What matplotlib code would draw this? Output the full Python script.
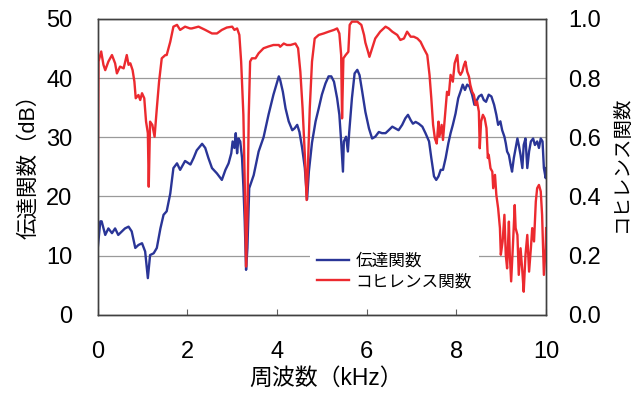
import matplotlib
matplotlib.use("Agg")
import matplotlib.pyplot as plt

plt.rcParams['font.family'] = ['Liberation Sans', 'Noto Sans CJK JP', 'DejaVu Sans']

# 伝達関数 (dB)
freq_tf = [0.0, 0.06, 0.09, 0.17, 0.24, 0.32, 0.39, 0.46, 0.54, 0.61, 0.69, 0.76, 0.84, 0.91, 0.99,
           1.06, 1.12, 1.17, 1.25, 1.32, 1.40, 1.47, 1.54, 1.62, 1.69, 1.77, 1.84, 1.95, 2.07, 2.14,
           2.21, 2.33, 2.40, 2.47, 2.55, 2.66, 2.74, 2.77, 2.85, 2.92, 2.98, 3.01, 3.05, 3.08, 3.11,
           3.14, 3.18, 3.22, 3.25, 3.28, 3.31, 3.34, 3.38, 3.48, 3.59, 3.70, 3.81, 3.92, 4.04, 4.07,
           4.13, 4.19, 4.26, 4.34, 4.39, 4.45, 4.50, 4.56, 4.62, 4.67, 4.71, 4.78, 4.86, 4.93, 5.00,
           5.08, 5.15, 5.21, 5.27, 5.34, 5.39, 5.43, 5.47, 5.49, 5.54, 5.58, 5.61, 5.67, 5.73, 5.79,
           5.84, 5.90, 5.97, 6.05, 6.12, 6.19, 6.27, 6.34, 6.42, 6.49, 6.57, 6.64, 6.71, 6.79, 6.86,
           6.92, 6.98, 7.03, 7.09, 7.16, 7.24, 7.31, 7.39, 7.44, 7.50, 7.55, 7.60, 7.65, 7.70, 7.76,
           7.82, 7.87, 7.92, 7.98, 8.04, 8.09, 8.14, 8.19, 8.24, 8.29, 8.35, 8.40, 8.44, 8.50, 8.56,
           8.61, 8.66, 8.72, 8.78, 8.84, 8.89, 8.93, 8.98, 9.02, 9.07, 9.10, 9.13, 9.17, 9.21, 9.24,
           9.28, 9.32, 9.36, 9.39, 9.43, 9.47, 9.50, 9.54, 9.58, 9.62, 9.66, 9.71, 9.75, 9.80, 9.84,
           9.88, 9.92, 9.95, 9.99, 10.0]
tf_db = [11.0, 15.8, 15.8, 13.5, 14.6, 13.8, 14.6, 13.5, 14.1, 14.6, 14.9, 14.1, 11.3, 11.8, 12.1,
         10.7, 6.2, 10.1, 10.4, 11.3, 14.6, 16.9, 17.5, 20.5, 24.8, 25.6, 24.5, 26.0, 25.4, 26.5,
         27.8, 28.9, 28.2, 26.5, 24.8, 23.9, 23.1, 22.8, 24.5, 25.6, 27.3, 29.3, 28.2, 30.7, 27.3,
         29.8, 29.3, 26.5, 21.7, 15.8, 7.6, 11.3, 21.4, 23.6, 27.6, 30.0, 33.8, 37.2, 40.3, 39.7,
         37.7, 34.9, 32.7, 31.2, 31.5, 32.1, 30.9, 28.2, 24.8, 19.5, 24.2, 29.1, 32.7, 34.9, 37.2,
         39.1, 40.3, 40.3, 39.4, 36.6, 33.8, 29.3, 24.2, 29.3, 30.1, 27.6, 30.9, 36.6, 40.8, 41.4,
         40.5, 37.7, 34.3, 31.5, 29.8, 30.1, 30.9, 30.7, 30.7, 31.2, 31.8, 31.5, 31.2, 32.1, 33.2,
         33.8, 32.9, 32.3, 32.6, 32.3, 31.8, 30.7, 29.3, 26.5, 23.4, 22.8, 23.4, 24.5, 24.5, 26.5,
         29.0, 30.7, 32.1, 34.0, 36.6, 37.7, 38.9, 38.0, 38.9, 38.6, 37.2, 35.5, 36.0, 36.9, 37.2,
         36.3, 36.0, 37.2, 36.9, 35.5, 33.8, 32.1, 32.7, 31.2, 30.1, 29.0, 27.6, 27.0, 25.3, 24.2,
         26.5, 28.2, 29.8, 28.7, 27.0, 24.8, 28.7, 29.8, 24.8, 27.6, 29.3, 29.8, 28.7, 29.3, 28.2,
         29.8, 29.3, 24.8, 23.1, 24.8]

# コヒレンス関数
freq_coh = [0.0, 0.02, 0.08, 0.13, 0.17, 0.24, 0.32, 0.39, 0.43, 0.50, 0.58, 0.65, 0.69, 0.73, 0.78,
            0.82, 0.85, 0.91, 0.95, 0.99, 1.04, 1.08, 1.12, 1.14, 1.17, 1.22, 1.27, 1.32, 1.37, 1.43,
            1.51, 1.54, 1.62, 1.69, 1.77, 1.84, 1.95, 2.06, 2.10, 2.25, 2.40, 2.55, 2.66, 2.77, 2.88,
            3.00, 3.05, 3.11, 3.16, 3.20, 3.25, 3.28, 3.31, 3.34, 3.37, 3.40, 3.44, 3.52, 3.59, 3.70,
            3.81, 3.92, 4.04, 4.07, 4.15, 4.22, 4.30, 4.41, 4.47, 4.52, 4.57, 4.62, 4.66, 4.69, 4.73,
            4.78, 4.84, 4.93, 5.04, 5.15, 5.27, 5.34, 5.39, 5.43, 5.45, 5.48, 5.53, 5.59, 5.62, 5.67,
            5.79, 5.88, 5.94, 5.97, 6.03, 6.06, 6.12, 6.19, 6.30, 6.42, 6.49, 6.57, 6.68, 6.75, 6.83,
            6.90, 6.98, 7.05, 7.13, 7.20, 7.27, 7.35, 7.40, 7.44, 7.48, 7.52, 7.56, 7.60, 7.62, 7.67,
            7.70, 7.74, 7.79, 7.83, 7.87, 7.92, 7.96, 8.02, 8.05, 8.09, 8.13, 8.17, 8.20, 8.24, 8.28,
            8.31, 8.35, 8.39, 8.43, 8.46, 8.50, 8.52, 8.55, 8.59, 8.63, 8.67, 8.70, 8.72, 8.76, 8.80,
            8.82, 8.86, 8.89, 8.93, 8.97, 8.99, 9.03, 9.07, 9.10, 9.13, 9.17, 9.19, 9.22, 9.26, 9.30,
            9.32, 9.36, 9.39, 9.43, 9.47, 9.50, 9.54, 9.58, 9.62, 9.66, 9.69, 9.73, 9.77, 9.80, 9.84,
            9.88, 9.91, 9.95, 9.99, 10.0]
coherence = [0.27, 0.856, 0.89, 0.845, 0.827, 0.856, 0.878, 0.850, 0.816, 0.839, 0.833, 0.878, 0.845,
             0.850, 0.827, 0.788, 0.732, 0.743, 0.726, 0.749, 0.732, 0.653, 0.614, 0.433, 0.653,
             0.642, 0.602, 0.698, 0.788, 0.867, 0.878, 0.878, 0.923, 0.974, 0.980, 0.963, 0.974,
             0.968, 0.968, 0.974, 0.963, 0.951, 0.951, 0.963, 0.971, 0.974, 0.963, 0.968, 0.946,
             0.856, 0.676, 0.450, 0.163, 0.338, 0.676, 0.856, 0.867, 0.867, 0.884, 0.901, 0.907,
             0.912, 0.912, 0.906, 0.917, 0.912, 0.912, 0.917, 0.901, 0.822, 0.698, 0.540, 0.388,
             0.507, 0.698, 0.856, 0.934, 0.946, 0.951, 0.957, 0.963, 0.968, 0.951, 0.878, 0.664,
             0.867, 0.878, 0.889, 0.980, 0.991, 0.991, 0.980, 0.946, 0.920, 0.889, 0.872, 0.901,
             0.934, 0.957, 0.974, 0.968, 0.957, 0.946, 0.929, 0.934, 0.957, 0.940, 0.940, 0.934,
             0.923, 0.901, 0.878, 0.811, 0.732, 0.642, 0.596, 0.579, 0.653, 0.602, 0.642, 0.591,
             0.664, 0.754, 0.743, 0.811, 0.788, 0.850, 0.878, 0.822, 0.811, 0.822, 0.845, 0.856,
             0.822, 0.805, 0.777, 0.754, 0.743, 0.709, 0.721, 0.687, 0.563, 0.653, 0.676, 0.664,
             0.631, 0.530, 0.541, 0.495, 0.484, 0.428, 0.473, 0.405, 0.360, 0.293, 0.203, 0.248,
             0.338, 0.203, 0.157, 0.315, 0.203, 0.113, 0.236, 0.371, 0.293, 0.270, 0.135, 0.225,
             0.146, 0.078, 0.203, 0.270, 0.146, 0.225, 0.293, 0.248, 0.383, 0.428, 0.439, 0.417,
             0.338, 0.135, 0.225, 0.293]

x_ticks = [0, 2, 4, 6, 8, 10]
db_ticks = [0, 10, 20, 30, 40, 50]
coh_ticks = [0.0, 0.2, 0.4, 0.6, 0.8, 1.0]

blue = '#2a3597'
red = '#ec2a2f'

fig = plt.figure(figsize=(6.38, 3.95), dpi=100)
ax = fig.add_axes([0.153, 0.203, 0.703, 0.749])
ax2 = ax.twinx()

ln1, = ax.plot(freq_tf, tf_db, color=blue, lw=1.7, label='伝達関数')
ln2, = ax2.plot(freq_coh, coherence, color=red, lw=1.7, label='コヒレンス関数')

ax.set_xlim(0, 10)
ax.set_ylim(0, 50)
ax2.set_ylim(0, 1.0)
ax.set_xticks(x_ticks)
ax.set_yticks(db_ticks)
ax2.set_yticks(coh_ticks)
ax2.set_yticklabels([f'{v:.1f}' for v in coh_ticks])

ax.grid(axis='y', color='#9a9a9a', lw=0.9)
ax.set_axisbelow(True)

for a in (ax, ax2):
    for s in a.spines.values():
        s.set_color('#404040')
        s.set_linewidth(1.0)

ax.tick_params(axis='x', direction='in', length=4, width=0.8, color='#606060',
               pad=19, labelsize=17)
ax.tick_params(axis='y', length=0, pad=18, labelsize=17)
ax2.tick_params(axis='y', length=0, pad=16, labelsize=17)

ax.set_xlabel('周波数（kHz）', fontsize=16.5)
ax.xaxis.set_label_coords(0.51, -0.175)
ax.set_ylabel('伝達関数（dB）', fontsize=15.5)
ax.yaxis.set_label_coords(-0.13, 0.52)
ax2.set_ylabel('コヒレンス関数', fontsize=14)
ax2.yaxis.set_label_coords(1.148, 0.51)

leg = ax2.legend(handles=[ln1, ln2], loc='upper left', bbox_to_anchor=(0.456, 0.26),
                 fontsize=12, frameon=True, fancybox=False, edgecolor='none',
                 facecolor='white', framealpha=1, handlelength=1.9, handletextpad=0.4,
                 labelspacing=0.3, borderpad=0.4)

fig.savefig('out.png', dpi=100)
